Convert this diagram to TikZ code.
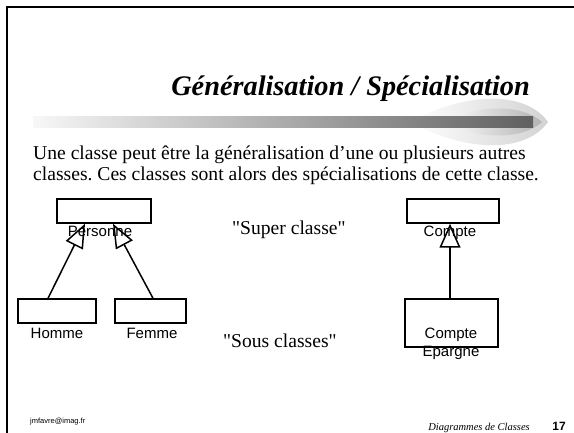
\documentclass[tikz,border=0pt]{standalone}
\usepackage{fontspec}
\setmainfont{Liberation Serif}[Ligatures=TeXOff]
\setsansfont{Liberation Sans}
\usetikzlibrary{arrows.meta}
\frenchspacing

\begin{document}
\begin{tikzpicture}[x=1pt,y=-1pt]
\tikzstyle{every node}+=[inner sep=0pt]
\tikzstyle{classe}=[draw, line width=1.5pt, minimum height=24pt]
\tikzstyle{nom}=[font=\sffamily\fontsize{15}{18}\selectfont]
\tikzstyle{texte}=[font=\fontsize{19.6}{24}\selectfont]
\tikzstyle{herite}=[line width=1.5pt, -{Triangle[open, length=24pt, width=19pt]}]
\useasboundingbox (0,0) rectangle (574,433);
\fill [white] (0,0) rectangle (574,433);
% cadre
\draw [black, line width=2pt] (574,7) -- (6.5,7) -- (6.5,433);
% titre et barre
\node [anchor=base east, font=\bfseries\itshape\fontsize{28.3}{32}\selectfont] (titre) at (530,96) {Généralisation / Spécialisation};
\shade [left color=white, right color=gray!35] (410,122) .. controls (465,92) and (525,90) .. (548,122) .. controls (525,154) and (465,152) .. (410,122) -- cycle;
\shade [left color=white, right color=gray!60] (440,122) .. controls (480,104) and (522,104) .. (542,122) .. controls (522,140) and (480,140) .. (440,122) -- cycle;
\shade [left color=gray!6, right color=gray!75!black] (33,117) rectangle (533,128);
% texte
\node [texte, anchor=base west] (ligne1) at (33,160) {Une classe peut être la généralisation d’une ou plusieurs autres};
\node [texte, anchor=base west] (ligne2) at (33,181) {classes. Ces classes sont alors des spécialisations de cette classe.};
\node [texte, anchor=base west] (superc) at (232,235) {"Super classe"};
\node [texte, anchor=base west] (sousc) at (223,348) {"Sous classes"};
% classes
\node [classe, minimum width=94pt] (personne) at (104,211) {};
\node [classe, minimum width=78pt] (homme) at (57,311) {};
\node [classe, minimum width=71pt] (femme) at (150.5,311) {};
\node [classe, minimum width=92pt] (compte) at (453,211) {};
\node [classe, minimum width=93pt, minimum height=48pt] (epargne) at (451.5,323) {};
\node [nom, anchor=base] (lpersonne) at (100,237) {Personne};
\node [nom, anchor=base] (lhomme) at (57,338) {Homme};
\node [nom, anchor=base] (lfemme) at (152,338) {Femme};
\node [nom, anchor=base] (lcompte) at (450,237) {Compte};
\node [nom, anchor=base] (lepargne1) at (451,338) {Compte};
\node [nom, anchor=base] (lepargne2) at (451,357) {Epargne};
% generalisations
\draw [herite] ([xshift=-9pt]homme.north) -- ([xshift=-19pt]personne.south);
\draw [herite] ([xshift=2.5pt]femme.north) -- ([xshift=9pt]personne.south);
\draw [herite, -{Triangle[open, length=24pt, width=21pt]}] ([xshift=-1.5pt]epargne.north) -- ([xshift=-3pt]compte.south);
% pied de page
\node [anchor=base west, font=\sffamily\fontsize{7.5}{9}\selectfont] (auteur) at (30,423) {jmfavre@imag.fr};
\node [anchor=base east, font=\itshape\fontsize{10.5}{12}\selectfont] (cours) at (530,430) {Diagrammes de Classes};
\node [anchor=base east, font=\sffamily\bfseries\fontsize{12}{14}\selectfont] (page) at (566,430) {17};
\end{tikzpicture}
\end{document}
